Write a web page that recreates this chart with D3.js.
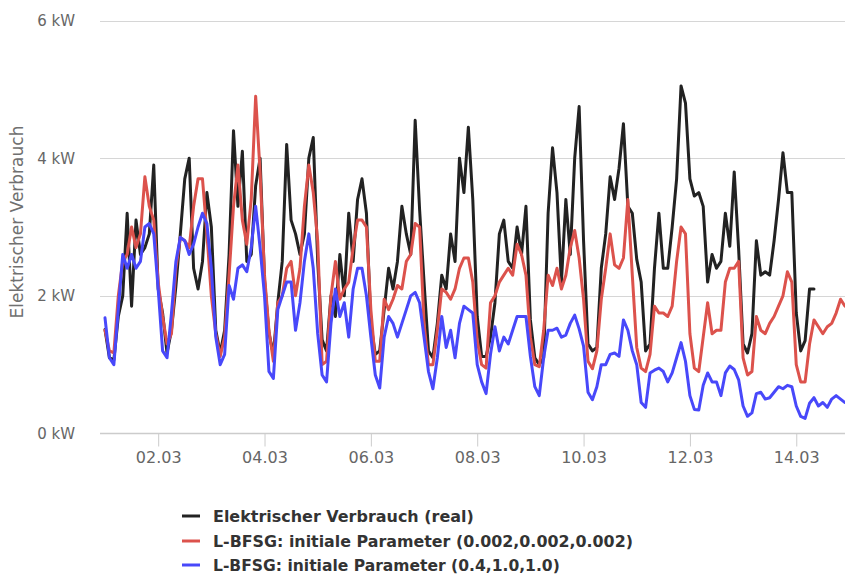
<!DOCTYPE html>
<html>
<head>
<meta charset="utf-8">
<script src="https://cdn.jsdelivr.net/npm/d3@7"></script>
<style>
  html, body { margin: 0; padding: 0; background: #fff; }
  svg { display: block; }
</style>
</head>
<body>
<svg id="chart" width="845" height="574"></svg>
<script>
// ---- data (2-hourly values in kW, starting 01.03 00:00) ----
const seriesNames = [
  "Elektrischer Verbrauch (real)",
  "L-BFSG: initiale Parameter (0.002,0.002,0.002)",
  "L-BFSG: initiale Parameter (0.4,1.0,1.0)"
];
const seriesColors = ["#222222", "#dc524c", "#4848fa"];

const realValues = [
  1.51,1.1,1.07,1.7,2.0,3.2,1.85,3.1,2.6,2.7,2.9,3.9,
  2.1,1.75,1.17,1.5,2.14,2.9,3.7,4.0,2.4,2.1,2.5,3.5,
  3.0,1.5,1.17,1.5,2.6,4.4,3.3,4.1,2.5,2.6,3.6,4.0,
  2.23,1.46,1.15,1.9,2.5,4.2,3.1,2.9,2.6,2.9,4.0,4.3,
  2.5,1.36,1.2,2.0,1.7,2.6,2.0,3.2,2.5,3.4,3.7,3.2,
  1.6,1.15,1.2,1.8,2.4,2.1,2.5,3.3,2.9,2.6,4.55,3.25,
  2.2,1.2,1.1,1.6,2.3,2.1,2.9,2.5,4.0,3.5,4.45,3.4,
  1.7,1.12,1.12,1.4,1.9,2.9,3.1,2.5,2.4,3.0,2.6,3.3,
  1.65,1.1,1.0,1.1,3.2,4.15,3.5,2.2,3.4,2.6,4.0,4.75,
  2.8,1.3,1.2,1.25,2.4,2.9,3.73,3.4,3.85,4.5,3.3,3.2,
  2.53,2.2,1.2,1.3,2.4,3.2,2.4,2.4,3.0,3.7,5.05,4.8,
  3.7,3.45,3.5,3.3,2.2,2.6,2.4,2.5,3.2,2.72,3.8,2.67,
  1.3,1.17,1.45,2.8,2.3,2.35,2.3,2.8,3.4,4.08,3.5,3.5,
  1.75,1.2,1.35,2.1,2.1
];

const fitSmallValues = [
  1.5,1.2,1.17,2.0,2.5,2.6,3.0,2.7,2.9,3.73,3.3,3.1,
  2.2,1.7,1.3,1.45,2.4,2.85,2.8,2.7,3.3,3.7,3.7,2.9,
  2.0,1.45,1.12,1.4,2.3,3.3,3.9,3.1,2.75,3.4,4.9,3.8,
  2.3,1.5,1.05,1.9,2.0,2.4,2.5,2.0,2.4,3.3,3.9,3.5,
  2.8,1.0,1.05,2.0,2.5,1.95,2.1,2.2,2.7,3.1,3.1,3.0,
  1.8,1.05,1.05,1.95,1.8,1.95,2.15,2.1,2.5,2.6,3.05,3.0,
  1.6,1.0,1.0,1.5,2.1,2.05,1.95,2.1,2.4,2.55,2.55,2.2,
  1.35,1.0,0.95,1.9,2.0,2.2,2.3,2.4,2.3,2.75,2.6,2.3,
  1.4,1.0,0.97,1.5,2.3,2.15,2.4,2.1,2.3,2.7,2.95,2.55,
  1.95,1.05,0.94,1.2,1.95,2.4,2.9,2.45,2.4,2.55,3.4,2.3,
  1.25,0.95,0.9,1.15,1.85,1.75,1.75,1.7,1.85,2.5,3.0,2.9,
  1.45,0.95,0.9,1.4,1.9,1.45,1.5,1.5,2.2,2.4,2.4,2.5,
  1.1,0.85,0.9,1.7,1.5,1.45,1.6,1.7,1.85,2.0,2.35,2.2,
  1.0,0.75,0.75,1.3,1.65,1.55,1.45,1.55,1.6,1.75,1.95,1.85
];

const fitLargeValues = [
  1.68,1.1,1.0,1.8,2.6,2.4,2.6,2.4,2.5,3.0,3.05,2.9,
  2.1,1.2,1.1,1.75,2.5,2.85,2.8,2.6,2.75,3.0,3.2,3.05,
  2.4,1.4,1.0,1.15,2.15,1.95,2.4,2.45,2.35,2.7,3.3,2.7,
  2.0,0.9,0.8,1.8,2.0,2.2,2.2,1.5,1.9,2.5,2.9,2.4,
  1.45,0.85,0.75,1.6,2.1,1.7,1.9,1.4,2.1,2.4,2.4,2.0,
  1.4,0.85,0.66,1.4,1.7,1.6,1.4,1.6,1.8,2.0,2.05,1.9,
  1.4,0.9,0.65,1.1,1.7,1.25,1.5,1.1,1.6,1.85,1.8,1.75,
  1.0,0.75,0.58,1.15,1.55,1.2,1.4,1.3,1.5,1.7,1.7,1.7,
  1.12,0.68,0.55,1.1,1.5,1.5,1.53,1.4,1.43,1.6,1.72,1.52,
  1.27,0.6,0.49,0.68,1.0,1.0,1.15,1.17,1.12,1.65,1.5,1.2,
  1.0,0.45,0.38,0.88,0.92,0.95,0.9,0.75,0.88,1.1,1.32,1.05,
  0.55,0.35,0.34,0.7,0.88,0.75,0.75,0.55,0.88,0.98,0.93,0.78,
  0.4,0.25,0.3,0.58,0.6,0.5,0.52,0.6,0.68,0.65,0.7,0.68,
  0.4,0.25,0.22,0.44,0.52,0.4,0.45,0.38,0.5,0.55,0.5,0.45
];

const yTickValues = [0, 2, 4, 6];
const yTickLabels = ["0 kW", "2 kW", "4 kW", "6 kW"];
const xTickLabels = ["02.03", "04.03", "06.03", "08.03", "10.03", "12.03", "14.03"];
const yAxisTitle = "Elektrischer Verbrauch";

// ---- build ----
const startTime = new Date(2021, 2, 1, 0, 0);
const stepHours = 2;
const toPoints = vals => vals.map((v, i) => ({ t: d3.timeHour.offset(startTime, i * stepHours), v }));
const allSeries = [realValues, fitSmallValues, fitLargeValues].map(toPoints);

const svg = d3.select("#chart");
const plotLeft = 100, plotRight = 845;
const lastTime = d3.timeHour.offset(startTime, (fitSmallValues.length - 1) * stepHours);

const x = d3.scaleTime().domain([startTime, lastTime]).range([105, 845]);
const y = d3.scaleLinear().domain([0, 6]).range([433.5, 20.5]);

// gridlines
svg.append("g").selectAll("line").data(yTickValues.filter(v => v > 0)).join("line")
  .attr("x1", plotLeft).attr("x2", plotRight)
  .attr("y1", d => Math.round(y(d)) + 0.5).attr("y2", d => Math.round(y(d)) + 0.5)
  .attr("stroke", "#d6d6d6").attr("stroke-width", 1);

// y labels
svg.append("g").selectAll("text").data(yTickValues).join("text")
  .attr("x", 75).attr("y", d => y(d)).attr("dy", "0.36em")
  .attr("text-anchor", "end")
  .attr("font-family", "DejaVu Sans, sans-serif").attr("font-size", 15)
  .attr("fill", "#666")
  .text((d, i) => yTickLabels[i]);

// y axis title
svg.append("text")
  .attr("transform", "translate(23,222) rotate(-90)")
  .attr("text-anchor", "middle")
  .attr("font-family", "DejaVu Sans, sans-serif").attr("font-size", 17)
  .attr("fill", "#707070")
  .text(yAxisTitle);

// x axis
const xTicks = xTickLabels.map(s => {
  const [dd, mm] = s.split(".").map(Number);
  return new Date(2021, mm - 1, dd, 0, 0);
});
const xAxis = d3.axisBottom(x).tickValues(xTicks).tickFormat((d, i) => xTickLabels[i]).tickSizeOuter(0).tickSize(13).tickPadding(5);
const gx = svg.append("g").attr("transform", "translate(0,433.5)").call(xAxis);
gx.select(".domain").remove();
gx.append("line").attr("x1", plotLeft).attr("x2", plotRight).attr("y1", 0).attr("y2", 0)
  .attr("stroke", "#cccccc").attr("stroke-width", 1.5);
gx.selectAll(".tick line").attr("stroke", "#cccccc");
gx.selectAll(".tick text").attr("font-family", "DejaVu Sans, sans-serif").attr("font-size", 16).attr("fill", "#666");

// lines
const line = d3.line().x(d => x(d.t)).y(d => y(d.v));
svg.append("g").selectAll("path").data(allSeries).join("path")
  .attr("d", line)
  .attr("fill", "none")
  .attr("stroke", (d, i) => seriesColors[i])
  .attr("stroke-width", 3)
  .attr("stroke-linejoin", "round")
  .attr("stroke-linecap", "round");

// legend
const legendRows = [516, 541, 565];
const legendWidths = [261, 420, 347];
const lg = svg.append("g");
seriesNames.forEach((name, i) => {
  lg.append("line").attr("x1", 182).attr("x2", 200)
    .attr("y1", legendRows[i]).attr("y2", legendRows[i])
    .attr("stroke", seriesColors[i]).attr("stroke-width", 3);
  const t = lg.append("text").attr("x", 213).attr("y", legendRows[i]).attr("dy", "0.36em")
    .attr("font-family", "DejaVu Sans, sans-serif").attr("font-weight", "bold")
    .attr("font-size", 15).attr("fill", "#333").text(name);
  const w = t.node().getComputedTextLength();
  t.attr("font-size", 15 * legendWidths[i] / w);
});
</script>
</body>
</html>
